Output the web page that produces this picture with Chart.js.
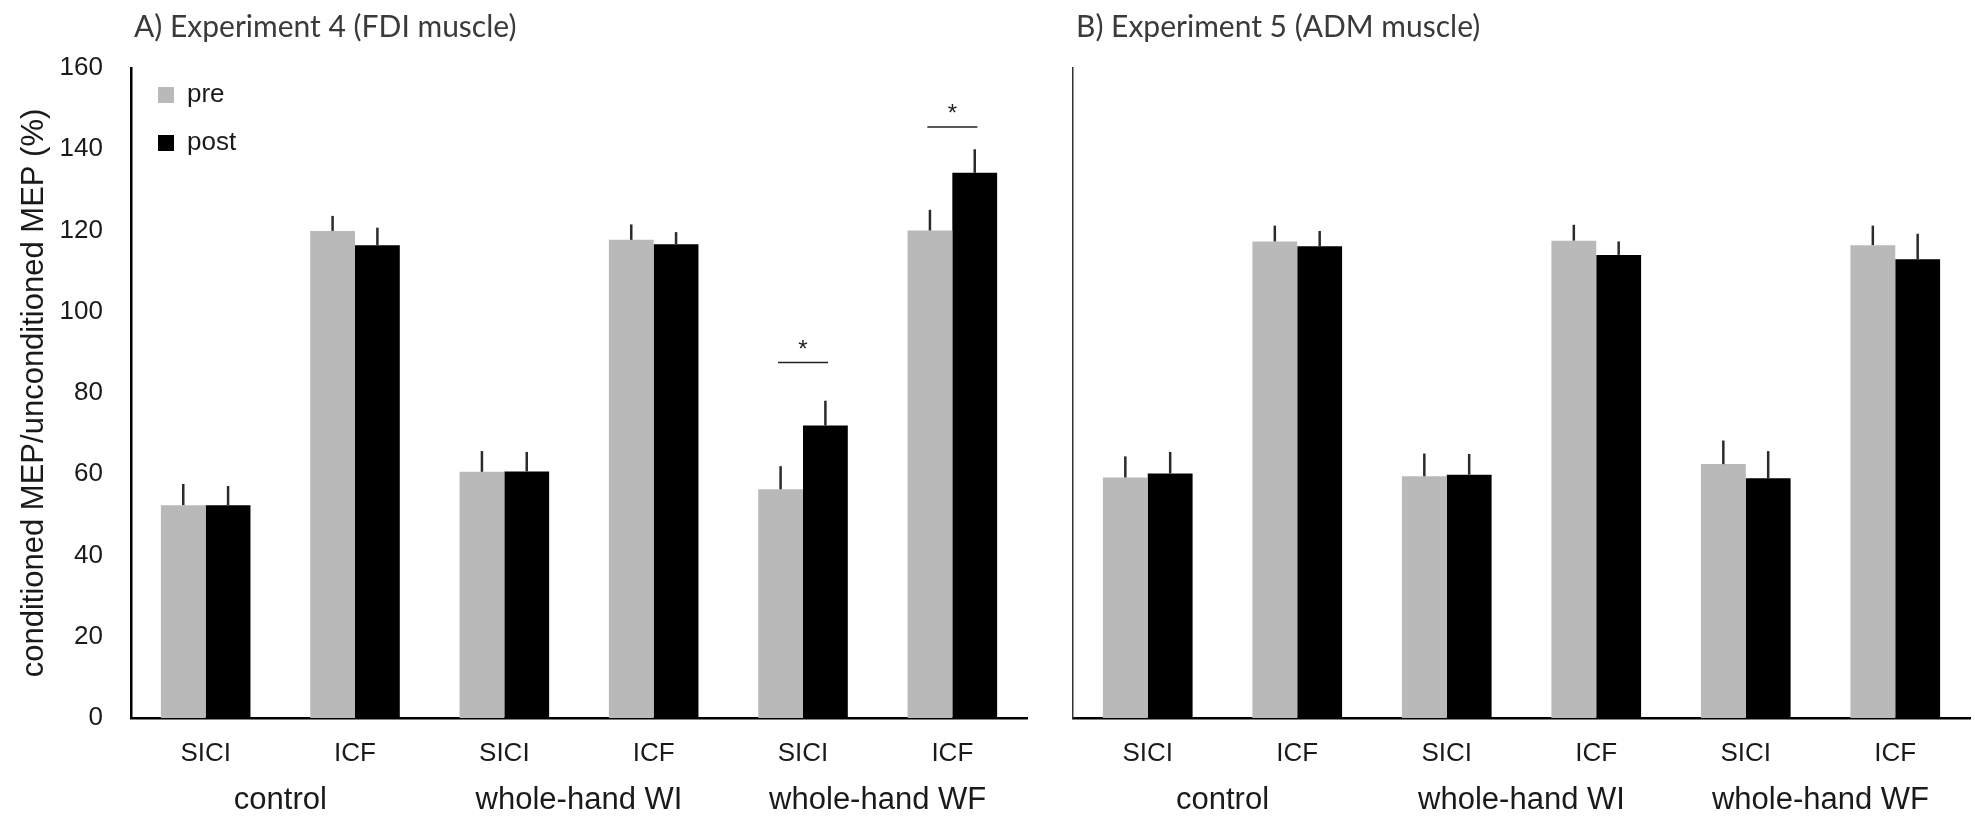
<!DOCTYPE html>
<html>
<head>
<meta charset="utf-8">
<script src="https://cdn.jsdelivr.net/npm/chart.js@4.4.1/dist/chart.umd.min.js"></script>
<style>
  body { margin: 0; background: #fff; }
  .panel { position: absolute; top: 0; }
  #panelA { left: 0; }
  #panelB { left: 1040px; }
</style>
</head>
<body>
<div class="panel" id="panelA"><canvas id="chartA" width="1040" height="827"></canvas></div>
<div class="panel" id="panelB"><canvas id="chartB" width="935" height="827"></canvas></div>
<script>
// protocol labels under each pair of bars, and the condition groups below them
let categories = ['SICI', 'ICF', 'SICI', 'ICF', 'SICI', 'ICF'];
let groups = ['control', 'whole-hand WI', 'whole-hand WF'];

// Experiment 4 (FDI) - mean and SEM, % of unconditioned MEP
let fdiPre = [52.4, 119.9, 60.6, 117.7, 56.3, 120.0];
let fdiPreSem = [5.2, 3.7, 5.1, 3.8, 5.7, 5.1];
let fdiPost = [52.4, 116.4, 60.7, 116.6, 72.0, 134.2];
let fdiPostSem = [4.7, 4.3, 4.8, 3.0, 6.1, 5.8];

// Experiment 5 (ADM)
let admPre = [59.2, 117.3, 59.5, 117.5, 62.5, 116.4];
let admPreSem = [5.2, 3.9, 5.6, 3.9, 5.8, 4.8];
let admPost = [60.2, 116.1, 59.9, 114.0, 59.0, 112.9];
let admPostSem = [5.3, 3.8, 5.1, 3.3, 6.7, 6.3];

// pre vs post significant differences (category index, bracket height)
let fdiSigCats = [4, 5];
let fdiSigLevels = [87.5, 145.5];

let yMax = 160;
let yStep = 20;

Chart.defaults.font.family = "'Liberation Sans', Arial, sans-serif";
Chart.defaults.color = '#1a1a1a';
Chart.defaults.animation = false;

const GRAY = '#b9b9b9';
const BLACK = '#000000';

// thin upward whiskers (mean + SEM), no caps
const errorBars = {
  id: 'errorBars',
  afterDatasetsDraw(chart) {
    const ctx = chart.ctx;
    const y = chart.scales.y;
    chart.data.datasets.forEach((ds, i) => {
      chart.getDatasetMeta(i).data.forEach((bar, j) => {
        const top = y.getPixelForValue(ds.data[j] + ds.sem[j]);
        ctx.save();
        ctx.strokeStyle = '#2b2b2b';
        ctx.lineWidth = 2.5;
        ctx.beginPath();
        ctx.moveTo(bar.x, bar.y);
        ctx.lineTo(bar.x, top);
        ctx.stroke();
        ctx.restore();
      });
    });
  }
};

// asterisk + line over a significant pre/post pair
const sigMarks = {
  id: 'sigMarks',
  afterDatasetsDraw(chart, args, opts) {
    if (!opts.cats) return;
    const ctx = chart.ctx;
    const x = chart.scales.x, y = chart.scales.y;
    opts.cats.forEach((c, k) => {
      const cx = x.getPixelForValue(c);
      const ly = y.getPixelForValue(opts.levels[k]);
      ctx.save();
      ctx.strokeStyle = '#222';
      ctx.lineWidth = 1.5;
      ctx.beginPath();
      ctx.moveTo(cx - 25, ly);
      ctx.lineTo(cx + 25, ly);
      ctx.stroke();
      ctx.fillStyle = '#222';
      ctx.font = "24px 'Liberation Sans', Arial, sans-serif";
      ctx.textAlign = 'center';
      ctx.textBaseline = 'alphabetic';
      ctx.fillText('*', cx, ly - 6);
      ctx.restore();
    });
  }
};

// square-marker legend stacked inside the plot, top left
const boxLegend = {
  id: 'boxLegend',
  afterDraw(chart, args, opts) {
    if (!opts.show) return;
    const ctx = chart.ctx;
    const area = chart.chartArea;
    ctx.save();
    ctx.font = "26px 'Liberation Sans', Arial, sans-serif";
    ctx.textBaseline = 'middle';
    chart.data.datasets.forEach((ds, i) => {
      const cy = area.top + 27 + i * 48;
      ctx.fillStyle = ds.backgroundColor;
      ctx.fillRect(area.left + 27, cy - 8, 16, 16);
      ctx.fillStyle = '#1a1a1a';
      ctx.fillText(ds.label, area.left + 56, cy);
    });
    ctx.restore();
  }
};

// panel heading, left aligned on the plot edge
const panelTitle = {
  id: 'panelTitle',
  afterDraw(chart, args, opts) {
    const ctx = chart.ctx;
    ctx.save();
    ctx.font = "30px Lato, 'Liberation Sans', sans-serif";
    ctx.fillStyle = '#3a3a3a';
    ctx.textBaseline = 'middle';
    ctx.fillText(opts.text, chart.chartArea.left + 3, 27);
    ctx.restore();
  }
};

function makePanel(canvasId, pre, preSem, post, postSem, opts) {
  return new Chart(document.getElementById(canvasId), {
    type: 'bar',
    data: {
      labels: categories,
      datasets: [
        { label: 'pre', data: pre, sem: preSem, backgroundColor: GRAY },
        { label: 'post', data: post, sem: postSem, backgroundColor: BLACK }
      ]
    },
    options: {
      responsive: false,
      layout: { padding: { top: 68, right: opts.padRight, bottom: 0, left: 0 } },
      categoryPercentage: 0.6,
      barPercentage: 1.0,
      plugins: {
        legend: { display: false },
        tooltip: { enabled: false },
        sigMarks: { cats: opts.sigCats, levels: opts.sigLevels },
        boxLegend: { show: opts.legend },
        panelTitle: { text: opts.title }
      },
      scales: {
        x: {
          weight: 0,
          grid: { display: false, drawTicks: false },
          border: { display: true, color: '#000', width: 2.5 },
          ticks: { padding: 20, font: { size: 26 }, color: '#1a1a1a' },
          afterFit: s => { s.height = 52; }
        },
        x2: {
          type: 'category',
          labels: groups,
          position: 'bottom',
          offset: true,
          weight: 1,
          grid: { display: false, drawTicks: false },
          border: { display: false },
          ticks: { padding: 12, font: { size: 31 }, color: '#1a1a1a' },
          afterFit: s => { s.height = 57; }
        },
        y: {
          min: 0,
          max: yMax,
          grid: { display: false, drawTicks: false },
          border: { display: true, color: opts.axisColor, width: opts.axisWidth },
          ticks: { display: opts.yLabels, stepSize: yStep, padding: 28, font: { size: 26 }, color: '#1a1a1a' },
          title: {
            display: opts.yLabels,
            text: 'conditioned MEP/unconditioned MEP (%)',
            font: { size: 31 },
            color: '#1a1a1a',
            padding: { top: 16, bottom: 0 }
          },
          afterFit: s => { s.width = opts.yWidth; }
        }
      }
    },
    plugins: [errorBars, sigMarks, boxLegend, panelTitle]
  });
}

makePanel('chartA', fdiPre, fdiPreSem, fdiPost, fdiPostSem, {
  title: 'A) Experiment 4 (FDI muscle)',
  yLabels: true, yWidth: 131, padRight: 13,
  axisColor: '#000', axisWidth: 2.5,
  legend: true, sigCats: fdiSigCats, sigLevels: fdiSigLevels
});

makePanel('chartB', admPre, admPreSem, admPost, admPostSem, {
  title: 'B) Experiment 5 (ADM muscle)',
  yLabels: false, yWidth: 33, padRight: 5,
  axisColor: '#333', axisWidth: 1.5,
  legend: false
});
</script>
</body>
</html>
